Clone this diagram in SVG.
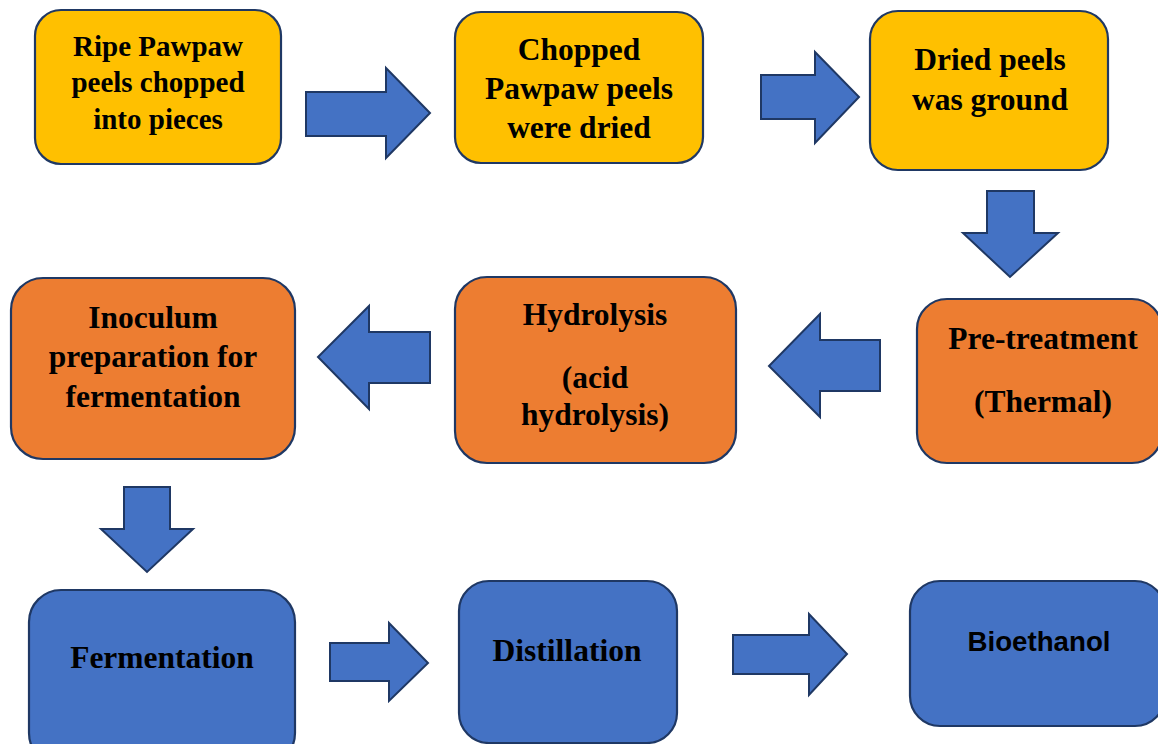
<svg xmlns="http://www.w3.org/2000/svg" width="1158" height="744" viewBox="0 0 1158 744">
<style>
.box{stroke:#1F3864;stroke-width:2.2}
.y{fill:#FFC000}.o{fill:#ED7D31}.b{fill:#4472C4}
.arr{fill:#4472C4;stroke:#1F3864;stroke-width:2;stroke-linejoin:miter}
.t{font-family:"Liberation Serif","Times New Roman",serif;font-weight:bold;font-size:31.5px;fill:#000;text-anchor:middle}
.s{font-family:"Liberation Sans",Arial,sans-serif;font-weight:bold;font-size:28px;fill:#000;text-anchor:middle}
</style>
<rect width="1158" height="744" fill="#fff"/>
<g id="connectors">
<polygon class="arr" points="306,92 386,92 386,68 430,113 386,158 386,136 306,136"/>
<polygon class="arr" points="761,75 815,75 815,52 859,97 815,143 815,119 761,119"/>
<polygon class="arr" points="987,191 1034,191 1034,233 1058,233 1010,277 963,233 987,233"/>
<polygon class="arr" points="880,340 820,340 820,314 769,366 820,417 820,391 880,391"/>
<polygon class="arr" points="430,332 369,332 369,306 318,357 369,409 369,383 430,383"/>
<polygon class="arr" points="124,487 170,487 170,529 193,529 147,572 101,529 124,529"/>
<polygon class="arr" points="330,643 389,643 389,623 428,663 389,701 389,681 330,681"/>
<polygon class="arr" points="733,635 809,635 809,614 847,654 809,695 809,674 733,674"/>
</g>
<g id="n1"><rect class="box y" x="35" y="10" width="246" height="154" rx="26"/>
<text class="t" style="font-size:29px"><tspan x="158" y="56">Ripe Pawpaw</tspan><tspan x="158" y="92">peels chopped</tspan><tspan x="158" y="129">into pieces</tspan></text></g>
<g id="n2"><rect class="box y" x="455" y="12" width="248" height="151" rx="26"/>
<text class="t"><tspan x="579" y="60">Chopped</tspan><tspan x="579" y="99">Pawpaw peels</tspan><tspan x="579" y="138">were dried</tspan></text></g>
<g id="n3"><rect class="box y" x="870" y="11" width="238" height="159" rx="28"/>
<text class="t"><tspan x="990" y="70">Dried peels</tspan><tspan x="990" y="110">was ground</tspan></text></g>
<g id="n4"><rect class="box o" x="917" y="299" width="245" height="164" rx="30"/>
<text class="t"><tspan x="1043" y="349">Pre-treatment</tspan><tspan x="1043" y="412">(Thermal)</tspan></text></g>
<g id="n5"><rect class="box o" x="455" y="277" width="281" height="186" rx="32"/>
<text class="t"><tspan x="595" y="325">Hydrolysis</tspan><tspan x="595" y="388">(acid</tspan><tspan x="595" y="425">hydrolysis)</tspan></text></g>
<g id="n6"><rect class="box o" x="11" y="278" width="284" height="181" rx="32"/>
<text class="t"><tspan x="153" y="328">Inoculum</tspan><tspan x="153" y="367">preparation for</tspan><tspan x="153" y="407">fermentation</tspan></text></g>
<g id="n7"><rect class="box b" x="29" y="590" width="266" height="175" rx="32"/>
<text class="t" x="162" y="668">Fermentation</text></g>
<g id="n8"><rect class="box b" x="459" y="581" width="218" height="162" rx="30"/>
<text class="t" x="567" y="661" textLength="149" lengthAdjust="spacingAndGlyphs">Distillation</text></g>
<g id="n9"><rect class="box b" x="910" y="581" width="255" height="145" rx="30"/>
<text class="s" x="1039" y="651" textLength="143" lengthAdjust="spacingAndGlyphs">Bioethanol</text></g>
</svg>
